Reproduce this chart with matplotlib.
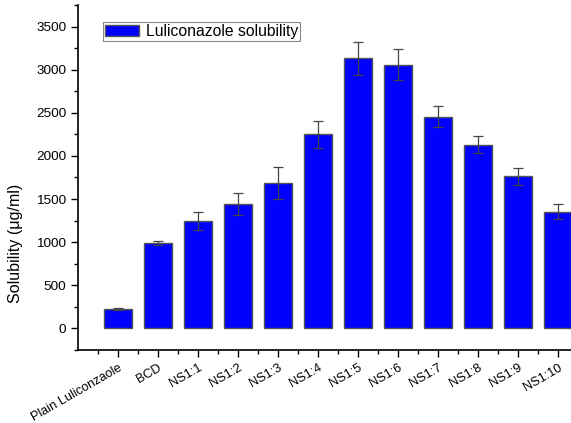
import matplotlib
matplotlib.use("Agg")
import matplotlib.pyplot as plt
from matplotlib.ticker import MultipleLocator

plt.rcParams['font.family'] = ['Liberation Sans', 'DejaVu Sans']

# data
labels = ["Plain Luliconzaole", "BCD", "NS1:1", "NS1:2", "NS1:3", "NS1:4",
          "NS1:5", "NS1:6", "NS1:7", "NS1:8", "NS1:9", "NS1:10"]
solubility = [225, 988, 1250, 1440, 1685, 2250, 3130, 3060, 2455, 2130, 1762, 1355]
errors = [8, 25, 105, 125, 190, 155, 190, 175, 125, 100, 100, 85]

fig = plt.figure(figsize=(5.71, 4.23), dpi=100)
# axes runs past the right edge, like the cropped original
ax = fig.add_axes([78/571, 73/423, 520/571, 345/423])

x = list(range(len(labels)))
ax.bar(x, solubility, width=0.72, color="#0000ff", edgecolor="#555555",
       linewidth=1.0, yerr=errors, ecolor="#444444",
       error_kw=dict(elinewidth=0.9, capsize=3.5, capthick=0.9),
       label="Luliconazole solubility")

ax.set_xlim(-1, 12)
ax.set_ylim(-250, 3750)
ax.yaxis.set_major_locator(MultipleLocator(500))
ax.yaxis.set_minor_locator(MultipleLocator(250))
ax.set_xticks(x)
ax.set_xticks([i - 0.5 for i in range(len(labels) + 1)], minor=True)
ax.set_xticklabels(labels, rotation=30, ha="right", rotation_mode="anchor",
                   fontsize=9.2)
ax.tick_params(axis="y", labelsize=9.7, length=5, width=1)
ax.tick_params(axis="x", length=5, width=1)
ax.tick_params(which="minor", length=3, width=1)

for s in ["top", "right"]:
    ax.spines[s].set_visible(False)
for s in ["left", "bottom"]:
    ax.spines[s].set_linewidth(1.2)

ax.set_ylabel("Solubility (\u03bcg/ml)", fontsize=11.5)
ax.yaxis.set_label_coords(-0.106, 0.31)

leg = ax.legend(loc="upper left", bbox_to_anchor=(103/571, 1 - 22/423),
                bbox_transform=fig.transFigure, borderaxespad=0,
                fontsize=11.3, fancybox=False, framealpha=1,
                edgecolor="#888888", handlelength=2.2, handleheight=0.75,
                borderpad=0.12, handletextpad=0.4)
leg.get_frame().set_linewidth(0.8)

fig.savefig("out.png", dpi=100)
